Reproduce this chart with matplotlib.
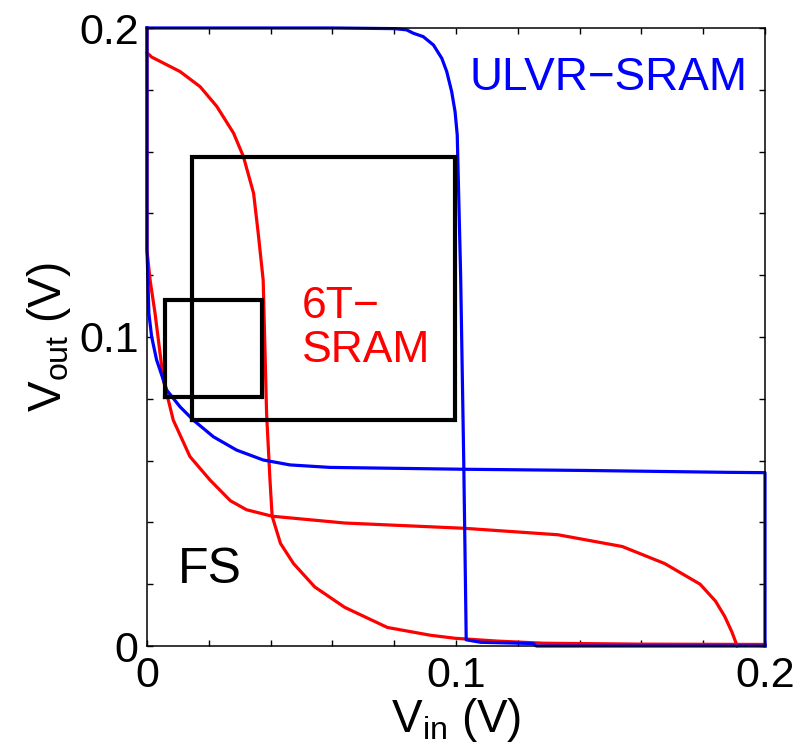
import numpy as np
import matplotlib
matplotlib.use("Agg")
import matplotlib.pyplot as plt
from matplotlib.ticker import MultipleLocator

plt.rcParams['font.family'] = ['Liberation Sans', 'DejaVu Sans']
plt.rcParams['mathtext.default'] = 'regular'

# Butterfly curves (V) ########################################################
# ULVR-SRAM, Vout = f(Vin)
ulvr_a_x = [0.0, 0.060, 0.080, 0.0840, 0.0862, 0.0894, 0.0927, 0.0954, 0.0970,
            0.0986, 0.0997, 0.1004, 0.1015, 0.1025, 0.1032, 0.1033, 0.1080,
            0.1250, 0.1260, 0.2]
ulvr_a_y = [0.2, 0.2, 0.1998, 0.1994, 0.1983, 0.1972, 0.1945, 0.1902, 0.1859,
            0.1794, 0.1729, 0.1654, 0.120, 0.060, 0.010, 0.0020, 0.0012,
            0.0008, 0.0, 0.0]
# ULVR-SRAM, mirrored curve
ulvr_b_x = [0.0, 0.0, 0.0003, 0.0006, 0.0015, 0.0031, 0.0064, 0.0107, 0.0150,
            0.0215, 0.0290, 0.0376, 0.0463, 0.0592, 0.1024, 0.1427, 0.1880,
            0.2, 0.2]
ulvr_b_y = [0.2, 0.128, 0.1184, 0.1077, 0.1001, 0.0926, 0.0828, 0.0774, 0.0731,
            0.0677, 0.0634, 0.0602, 0.0586, 0.0578, 0.0572, 0.0568, 0.0562,
            0.0561, 0.0]
# 6T-SRAM, Vout = f(Vin)
t6_a_x = [0.0, 0.0015, 0.0107, 0.0172, 0.0226, 0.0280, 0.0312, 0.0345, 0.0360,
          0.0376, 0.0387, 0.0398, 0.0405, 0.0432, 0.0474, 0.0543, 0.0640,
          0.0778, 0.0916, 0.0997, 0.1132, 0.1283, 0.160, 0.2]
t6_a_y = [0.192, 0.1906, 0.1859, 0.1810, 0.1746, 0.1660, 0.1584, 0.1465, 0.1335,
          0.1184, 0.0753, 0.0537, 0.0420, 0.0332, 0.0267, 0.0191, 0.0125,
          0.0060, 0.0035, 0.0025, 0.0016, 0.0009, 0.0006, 0.0005]
# 6T-SRAM, mirrored curve
t6_b_x = [0.0, 0.0, 0.0010, 0.0026, 0.0053, 0.0085, 0.0139, 0.0204, 0.0270,
          0.0322, 0.0405, 0.0640, 0.1026, 0.1330, 0.1538, 0.1675, 0.1790,
          0.1840, 0.1870, 0.1893, 0.1910]
t6_b_y = [0.2, 0.128, 0.1184, 0.1077, 0.0861, 0.0731, 0.0613, 0.0537, 0.0470,
          0.0441, 0.0420, 0.0398, 0.0381, 0.0360, 0.0322, 0.0267, 0.0200,
          0.0145, 0.0095, 0.0045, 0.0]

# Noise-margin squares: left, bottom, side
box_left = [0.0146, 0.0058]
box_bottom = [0.0731, 0.0806]
box_side = [0.0852, 0.0313]

tick_vals = [0.0, 0.1, 0.2]
tick_text = ['0', '0.1', '0.2']
###############################################################################

fig = plt.figure(figsize=(8.01, 7.48), dpi=100)
ax = fig.add_axes([147/801, 102/748, 618/801, 618/748])

ax.plot(t6_a_x, t6_a_y, color='#ff0000', lw=2.3, clip_on=False)
ax.plot(t6_b_x, t6_b_y, color='#ff0000', lw=2.3, clip_on=False)
ax.plot(ulvr_a_x, ulvr_a_y, color='#0000ff', lw=2.3, clip_on=False)
ax.plot(ulvr_b_x, ulvr_b_y, color='#0000ff', lw=2.3, clip_on=False)

for l, b, s in zip(box_left, box_bottom, box_side):
    ax.plot([l, l + s, l + s, l, l], [b, b, b + s, b + s, b],
            color='black', lw=3.0, solid_joinstyle='miter')

ax.text(0.1045, 0.1799, 'ULVR\u2212SRAM', color='#0000ff', fontsize=33,
        ha='left', va='baseline')
ax.text(0.050, 0.0919, '6T\u2212\nSRAM', color='#ff0000', fontsize=32,
        ha='left', va='baseline', linespacing=1.1)
ax.text(0.0101, 0.0203, 'FS', color='black', fontsize=36,
        ha='left', va='baseline')

ax.set_xlim(0, 0.2)
ax.set_ylim(0, 0.2)
ax.set_xticks(tick_vals, tick_text)
ax.set_yticks(tick_vals, tick_text)
ax.xaxis.set_minor_locator(MultipleLocator(0.02))
ax.yaxis.set_minor_locator(MultipleLocator(0.02))
ax.tick_params(which='both', direction='in', top=True, right=True,
               length=4.5, width=1.0, labelsize=31)
ax.tick_params(axis='x', pad=7)
ax.tick_params(axis='y', pad=6)
for sp in ax.spines.values():
    sp.set_linewidth(1.1)

ax.set_xlabel('V$_{in}$ (V)', fontsize=33, labelpad=0)
ax.set_ylabel('V$_{out}$ (V)', fontsize=33, labelpad=4)

fig.savefig('out.png', dpi=100)
